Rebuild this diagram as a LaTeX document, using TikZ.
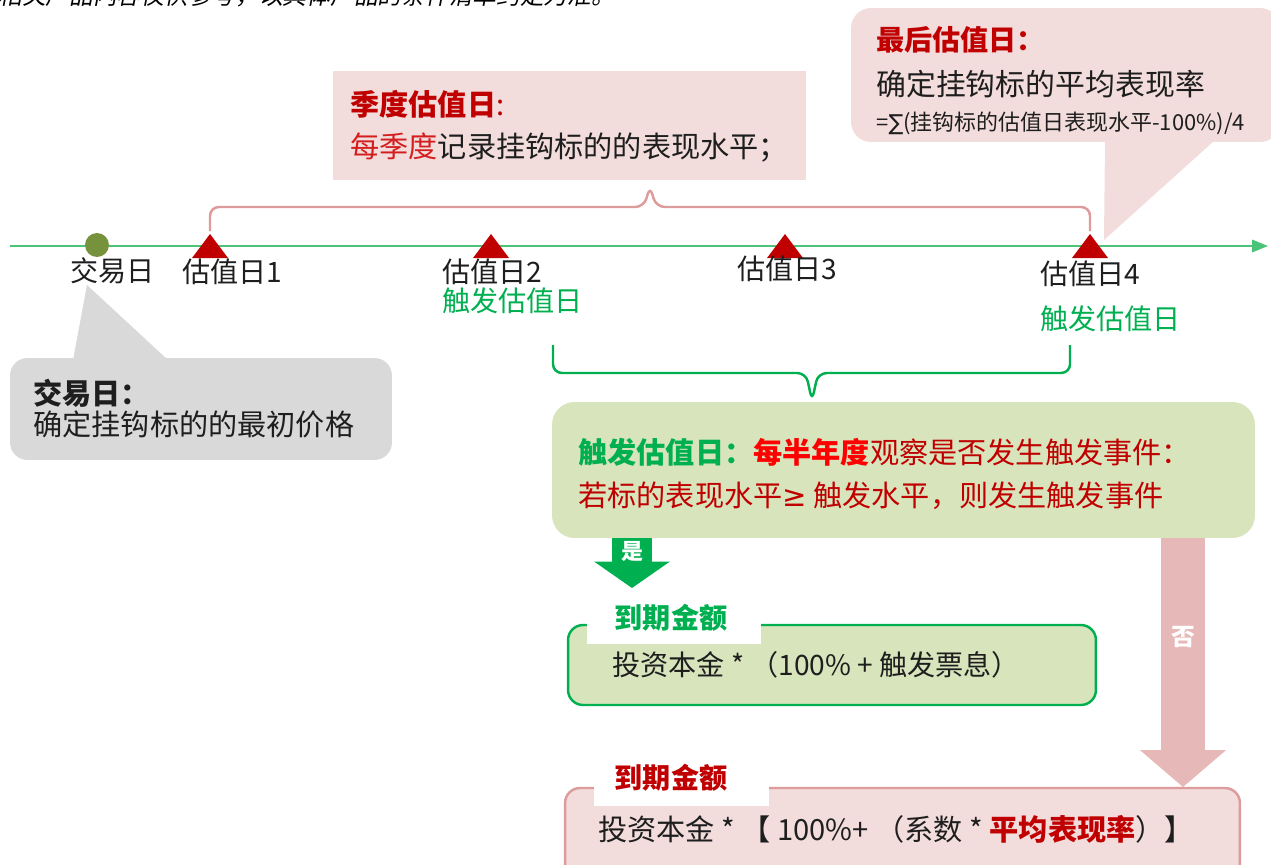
\documentclass[tikz,border=0pt]{standalone}
\usepackage{fontspec}
\setmainfont{Noto Sans CJK SC}
\newfontfamily\symfont{DejaVu Sans}
\usetikzlibrary{positioning,arrows.meta}

\definecolor{ink}{RGB}{30,30,30}
\definecolor{tlgreen}{RGB}{76,196,120}
\definecolor{olive}{RGB}{118,146,60}
\definecolor{dred}{RGB}{192,0,0}
\definecolor{lred}{RGB}{212,30,30}
\definecolor{pinkbg}{RGB}{242,220,220}
\definecolor{pinkline}{RGB}{222,155,155}
\definecolor{grn}{RGB}{0,176,80}
\definecolor{lgreen}{RGB}{216,228,188}
\definecolor{graybg}{RGB}{217,217,217}
\definecolor{pinkarrow}{RGB}{230,184,183}

\newcommand{\szA}{\fontsize{16}{19}\selectfont}
\newcommand{\szB}{\fontsize{13.5}{16}\selectfont}
\newcommand{\szC}{\fontsize{12.5}{15}\selectfont}
\newcommand{\szD}{\fontsize{16.6}{19}\selectfont}

\tikzset{
  txt/.style={anchor=west},
  boxtxt/.style={anchor=west,font=\szD},
  box/.style={inner sep=0pt},
  brace/.style={line width=1.4pt,rounded corners=5pt},
  yesarrow/.style={draw=grn,line width=22.8pt,
    -{Triangle[length=15pt,width=43pt,line width=0pt]}},
  noarrow/.style={draw=pinkarrow,line width=24.5pt,
    -{Triangle[length=21pt,width=49pt,line width=0pt]}},
  tab/.style={fill=white,minimum width=3.5cm,minimum height=0.88cm}
}

\begin{document}
\begin{tikzpicture}
  [x=0.02cm,y=-0.02cm,every node/.style={inner sep=0pt,font=\szA,text=ink}]
  \useasboundingbox (0,0) rectangle (1271,865);

  % note at the top, cut by the page
  \node[anchor=base west,font=\szB,xslant=0.2,transform shape,text=black] (note) at (-2,5)
    {相关产品内容仅供参考，以具体产品的条件清单约定为准。};

  % callouts
  \node[box,fill=pinkbg,minimum width=9.46cm,minimum height=2.18cm] (qbox) at (569.5,125.5) {};
  \node[box,fill=pinkbg,rounded corners=0.4cm,minimum width=8.58cm,minimum height=2.68cm] (lbox) at (1065.5,75) {};
  \fill[pinkbg] (1105,140) -- (1215,140) -- (1104,240) -- cycle;
  \node[box,fill=graybg,rounded corners=0.35cm,minimum width=7.64cm,minimum height=2.04cm] (tbox) at (201,409) {};
  \fill[graybg] (73,360) -- (87,285) -- (168,360) -- cycle;

  \node[boxtxt] (q1) at (350,104) {\textcolor{dred}{\textbf{季度估值日}:}};
  \node[boxtxt] (q2) at (350,148) {\textcolor{lred}{每季度}记录挂钩标的的表现水平；};
  \node[txt,text=dred] (f1) at (876,40) {\textbf{最后估值日：}};
  \node[txt,font=\fontsize{17}{20}\selectfont] (f2) at (876,84) {确定挂钩标的平均表现率};
  \node[txt,font=\szC] (f3) at (876,123) {={\symfont ∑}(挂钩标的估值日表现水平-100\%)/4};
  \node[boxtxt] (d1) at (33,393) {\textbf{交易日：}};
  \node[boxtxt] (d2) at (33,424) {确定挂钩标的的最初价格};

  % timeline
  \coordinate (t0) at (10,246);
  \coordinate (t1) at (1268,246);
  \draw[tlgreen,line width=1.2pt,-{Triangle[length=9pt,width=7pt]}] (t0) -- (t1);
  \node[circle,fill=olive,minimum size=0.48cm] (dot) at (97,245) {};
  \foreach \x in {210,491,785,1090}
    \fill[dred] (\x-18,258) -- (\x+18,258) -- (\x,234) -- cycle;

  \node[txt] (l0) at (70,271) {交易日};
  \node[txt] (l1) at (182,272) {估值日1};
  \node[txt] (l2) at (442,272) {估值日2};
  \node[txt,text=grn] (g2) [below=0.04cm of l2.south west,anchor=north west] {触发估值日};
  \node[txt] (l3) at (737,269) {估值日3};
  \node[txt] (l4) at (1040,274) {估值日4};
  \node[txt,text=grn] (g4) [below=0.36cm of l4.south west,anchor=north west] {触发估值日};

  % braces
  \draw[pinkline,brace] (210,231) -- (210,207) -- (644,207) -- (650,186) -- (656,207) -- (1090,207) -- (1090,231);
  \draw[grn,brace] (553,345) -- (553,373) -- (806,373) -- (812,401) -- (818,373) -- (1070,373) -- (1070,345);

  % trigger box
  \node[box,fill=lgreen,rounded corners=0.45cm,minimum width=14.06cm,minimum height=2.72cm] (trig) at (903.5,470) {};
  \node[boxtxt] (r1) at (578,452) {\textcolor{grn}{\textbf{触发估值日：}}\textcolor{red}{\textbf{每半年度}}\textcolor{dred}{观察是否发生触发事件：}};
  \node[boxtxt,text=dred] (r2) at (578,496) {若标的表现水平{\symfont ≥} 触发水平，则发生触发事件};

  % results
  \node[box,draw=grn,line width=1.4pt,fill=lgreen,rounded corners=0.3cm,minimum width=10.56cm,minimum height=1.6cm] (res1) at (832,665) {};
  \node[tab] (tab1) at (674,622) {};
  \node[text=grn,font=\szA\bfseries] (m1) at (671,618) {到期金额};
  \node[txt] (s1) at (612,665) {投资本金 * （100\% + 触发票息）};

  \node[box,draw=pinkline,line width=1.4pt,fill=pinkbg,rounded corners=0.3cm,minimum width=13.5cm,minimum height=1.94cm] (res2) at (902.5,836.5) {};
  \node[tab] (tab2) at (681.5,784) {};
  \node[text=dred,font=\szA\bfseries] (m2) at (671,778) {到期金额};
  \node[boxtxt] (s2) at (598,829) {投资本金 * 【 100\%+ （系数 * \textcolor{dred}{\textbf{平均表现率}}）】};

  % yes / no arrows
  \coordinate (yes) at (632,588);
  \coordinate (no) at (1183,787);
  \draw[yesarrow] (trig.south -| yes) -- (yes);
  \draw[noarrow] (trig.south -| no) -- (no);
  \node[text=white,font=\szC\bfseries] (yl) at (632,552) {是};
  \node[text=white,font=\szB\bfseries] (nl) at (1183,637) {否};
\end{tikzpicture}
\end{document}
